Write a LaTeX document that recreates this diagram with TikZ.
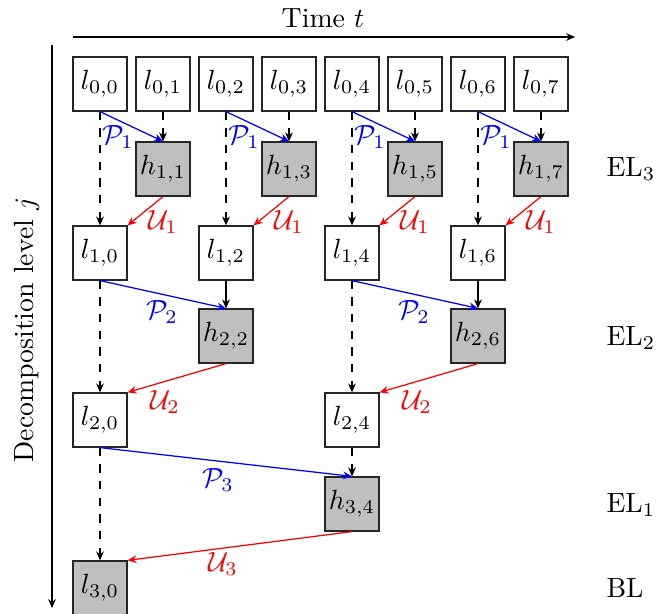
\documentclass[tikz,border=0pt]{standalone}
\usetikzlibrary{arrows.meta}
\begin{document}
\begin{tikzpicture}[x=0.36pt,y=-0.36pt,
  cell/.style={draw=black!85, line width=0.45pt, minimum size=19.44pt, inner sep=0pt, fill=white},
  hcell/.style={cell, fill=lightgray},
  tip/.style={-{Stealth[length=3.2pt,width=2.8pt]}, line width=0.45pt},
  pred/.style={tip, blue},
  upd/.style={tip, red},
  pass/.style={tip, dashed},
  plab/.style={inner sep=0pt, text=blue},
  ulab/.style={inner sep=0pt, text=red},
  lvl/.style={inner sep=0pt, anchor=west}]
\useasboundingbox (0,0) rectangle (665,614);
% axes
\coordinate (t0) at (73,37);
\coordinate (t1) at (575,37);
\draw[tip] (t0) -- (t1);
\node (tl) at (323,18) {Time $t$};
\coordinate (j0) at (52,45);
\coordinate (j1) at (52,608);
\draw[tip] (j0) -- (j1);
\node[rotate=90] (jl) at (27,330) {Decomposition level $j$};
% level 0
\foreach \k in {0,...,7}{
  \node[cell] (l0\k) at ({100+63*\k},84) {$l_{0,\k}$};
}
% level 1
\foreach \k in {0,2,4,6}{
  \pgfmathtruncatemacro{\o}{\k+1}
  \node[hcell] (h1\o) at ({100+63*\o},169) {$h_{1,\o}$};
  \node[cell] (l1\k) at ({100+63*\k},253) {$l_{1,\k}$};
  \draw[pass] (l0\k.south) -- (l1\k.north);
  \draw[pred] (l0\k.south) -- (h1\o.north);
  \draw[pass] (l0\o.south) -- (h1\o.north);
  \draw[upd] (h1\o.south) -- (l1\k.north east);
  \node[plab] (p1\k) at ({118+63*\k},137) {$\mathcal{P}_1$};
  \node[ulab] (u1\k) at ({163+63*\k},222) {$\mathcal{U}_1$};
}
% level 2
\foreach \k in {0,4}{
  \pgfmathtruncatemacro{\o}{\k+2}
  \node[hcell] (h2\o) at ({100+63*\o},336) {$h_{2,\o}$};
  \node[cell] (l2\k) at ({100+63*\k},420) {$l_{2,\k}$};
  \draw[pass] (l1\k.south) -- (l2\k.north);
  \draw[pred] (l1\k.south) -- (h2\o.north);
  \draw[tip] (l1\o.south) -- (h2\o.north);
  \draw[upd] (h2\o.south) -- (l2\k.north east);
  \node[plab] (p2\k) at ({162+63*\k},312) {$\mathcal{P}_2$};
  \node[ulab] (u2\k) at ({165+63*\k},402) {$\mathcal{U}_2$};
}
% level 3
\node[hcell] (h34) at (352,504) {$h_{3,4}$};
\node[hcell] (l30) at (100,588) {$l_{3,0}$};
\draw[pass] (l20.south) -- (l30.north);
\draw[pred] (l20.south) -- (h34.north);
\draw[pass] (l24.south) -- (h34.north);
\draw[upd] (h34.south) -- (l30.north east);
\node[plab] (p3) at (218,480) {$\mathcal{P}_3$};
\node[ulab] (u3) at (223,564) {$\mathcal{U}_3$};
% level labels
\node[lvl] (el3) at (606,169) {EL$_3$};
\node[lvl] (el2) at (606,338) {EL$_2$};
\node[lvl] (el1) at (606,505) {EL$_1$};
\node[lvl] (bl) at (606,588) {BL};
\end{tikzpicture}
\end{document}
